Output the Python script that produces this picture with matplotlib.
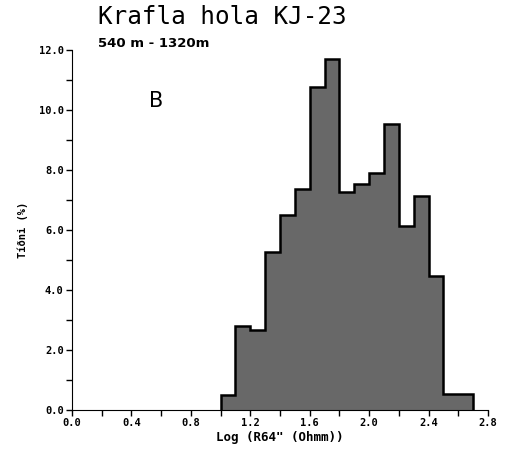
import matplotlib.pyplot as plt
import numpy as np

# Frequency (%) of log resistivity, bins of 0.1 starting at log R = 1.0
bin_start = 1.0
bin_width = 0.1
tidni = [0.5, 2.8, 2.65, 5.25, 6.5, 7.37, 10.78, 11.7, 7.28, 7.52,
         7.89, 9.53, 6.14, 7.13, 4.48, 0.53, 0.53]

x_ticks = [0.0, 0.4, 0.8, 1.2, 1.6, 2.0, 2.4, 2.8]
y_ticks = [0.0, 2.0, 4.0, 6.0, 8.0, 10.0, 12.0]

mono = "DejaVu Sans Mono"

fig = plt.figure(figsize=(5.11, 4.55), dpi=100)
ax = fig.add_axes([0.141, 0.099, 0.814, 0.791])

edges = bin_start + bin_width * np.arange(len(tidni) + 1)
ax.stairs(tidni, edges, fill=True, color="#686868", baseline=0)
ax.stairs(tidni, edges, color="black", linewidth=1.8, baseline=0)

ax.set_xlim(0, 2.8)
ax.set_ylim(0, 12)
ax.spines["top"].set_visible(False)
ax.spines["right"].set_visible(False)
ax.set_xticks(x_ticks)
ax.set_xticks(np.arange(0, 2.81, 0.2), minor=True)
ax.set_yticks(y_ticks)
ax.set_yticks(np.arange(0, 12.1, 1.0), minor=True)
ax.set_xticklabels([f"{v:.1f}" for v in x_ticks], fontfamily=mono,
                   fontweight="bold", fontsize=7.5)
ax.set_yticklabels([f"{v:.1f}" for v in y_ticks], fontfamily=mono,
                   fontweight="bold", fontsize=7.5)
ax.tick_params(axis="both", which="both", direction="out", length=4,
               width=1, pad=2)

ax.set_xlabel('Log (R64" (Ohmm))', fontfamily=mono, fontweight="bold",
              fontsize=9, labelpad=2)
ax.set_ylabel("Tíðni (%)", fontfamily=mono, fontweight="bold", fontsize=7.5,
              labelpad=8)

ax.text(0.52, 10.3, "B", fontsize=15, va="center", ha="left")

fig.text(0.191, 0.948, "Krafla hola KJ-23", fontfamily=mono, fontsize=17.5,
         va="baseline", ha="left")
fig.text(0.192, 0.905, "540 m - 1320m", fontfamily="DejaVu Sans",
         fontweight="bold", fontsize=9.5, va="center", ha="left")

fig.savefig("out.png", dpi=100)
